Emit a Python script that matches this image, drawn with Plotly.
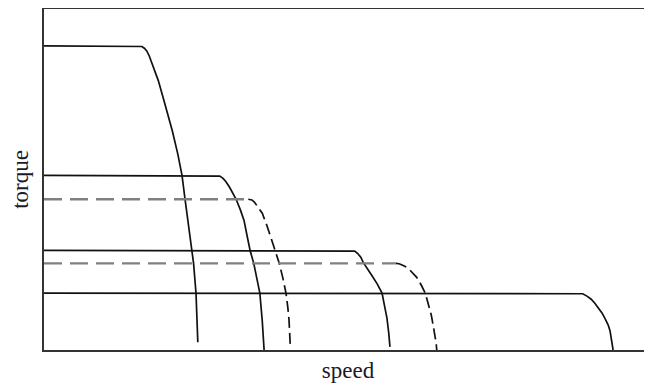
import plotly.graph_objects as go

# Torque-speed curves (normalised units: speed 0-100, torque 0-100)
s1_speed = [0, 15.6, 16.1, 16.5, 16.9, 17.3, 17.9, 18.8, 19.6, 20.4, 21.1, 22.0, 22.7, 23.2, 23.7, 24.3, 24.6, 25.0, 25.2, 25.3]
s1_torque = [89.2, 89.2, 89.0, 88.5, 87.7, 86.3, 83.5, 79.0, 74.0, 69.0, 64.3, 57.5, 51.2, 44.2, 38.0, 29.2, 25.4, 16.7, 9.0, 2.3]

s2_speed = [0, 28.4, 28.9, 29.4, 29.9, 30.5, 31.1, 31.6, 32.3, 32.9, 33.4, 33.9, 34.5, 35.0, 35.5, 35.9, 36.2]
s2_torque = [51.2, 51.2, 51.0, 50.4, 49.4, 47.8, 45.9, 44.2, 41.1, 38.0, 33.5, 29.2, 25.4, 21.0, 16.7, 8.5, 0]

d1_flat_speed = [0, 33.6]
d1_flat_torque = [44.2, 44.2]
d1_speed = [33.6, 34.2, 34.6, 35.0, 35.5, 35.9, 36.7, 37.5, 38.1, 38.7, 39.3, 39.8, 40.1, 40.3, 40.5]
d1_torque = [44.2, 44.0, 43.4, 42.4, 41.3, 40.1, 36.3, 32.2, 28.8, 25.4, 21.0, 16.7, 12.5, 8.8, 1.5]

s3_speed = [0, 50.5, 51.1, 51.6, 52.1, 52.5, 53.2, 53.9, 54.8, 55.6, 56.0, 56.4, 56.7, 56.9]
s3_torque = [29.2, 29.2, 29.0, 28.3, 27.2, 25.7, 23.9, 21.9, 19.4, 16.7, 13.0, 9.4, 5.0, 0.9]

d2_flat_speed = [0, 57.9]
d2_flat_torque = [25.4, 25.4]
d2_speed = [57.9, 58.4, 58.9, 59.6, 60.2, 60.8, 61.3, 62.0, 62.7, 63.2, 63.7, 64.0, 64.3, 64.5, 64.6]
d2_torque = [25.4, 25.3, 24.9, 24.3, 23.4, 22.4, 21.3, 19.2, 16.7, 13.5, 10.2, 7.3, 4.4, 2.0, 0]

s4_speed = [0, 88.0, 88.6, 89.3, 90.0, 90.6, 91.2, 91.8, 92.3, 92.8, 93.1, 93.3, 93.5, 93.6]
s4_torque = [16.7, 16.7, 16.5, 15.8, 14.9, 13.7, 12.4, 10.8, 9.1, 7.3, 5.6, 3.8, 1.9, 0]

fig = go.Figure()

solid = dict(color="#111111", width=1.7)
for xs, ys in [(s1_speed, s1_torque), (s2_speed, s2_torque),
               (s3_speed, s3_torque), (s4_speed, s4_torque)]:
    fig.add_trace(go.Scatter(x=xs, y=ys, mode="lines", line=solid,
                             showlegend=False, hoverinfo="skip"))

for fx, fy, cx, cy in [(d1_flat_speed, d1_flat_torque, d1_speed, d1_torque),
                       (d2_flat_speed, d2_flat_torque, d2_speed, d2_torque)]:
    fig.add_trace(go.Scatter(x=fx, y=fy, mode="lines",
                             line=dict(color="#808080", width=2.4, dash="18px,8px"),
                             showlegend=False, hoverinfo="skip"))
    fig.add_trace(go.Scatter(x=cx, y=cy, mode="lines",
                             line=dict(color="#111111", width=1.7, dash="11px,5px"),
                             showlegend=False, hoverinfo="skip"))

font = dict(family="Liberation Serif, Times New Roman, serif", size=23, color="#1a1a2a")

# page body has an 8px margin: figure placed so the plot frame lands where the reference has it
fig.update_layout(
    width=644, height=379,
    margin=dict(l=36, r=0, t=1, b=37),
    paper_bgcolor="white", plot_bgcolor="white",
    font=font,
    xaxis=dict(range=[0, 100], showgrid=False, zeroline=False, showticklabels=False, ticks="",
               showline=True, linecolor="#333333", linewidth=2, mirror=True, automargin=False,
               title=dict(text="speed", font=font, standoff=11)),
    yaxis=dict(range=[0, 100], showgrid=False, zeroline=False, showticklabels=False, ticks="",
               showline=True, linecolor="#333333", linewidth=2, mirror=False, automargin=False,
               title=dict(text="torque", font=font, standoff=8)),
)

fig.write_html("out.html")
